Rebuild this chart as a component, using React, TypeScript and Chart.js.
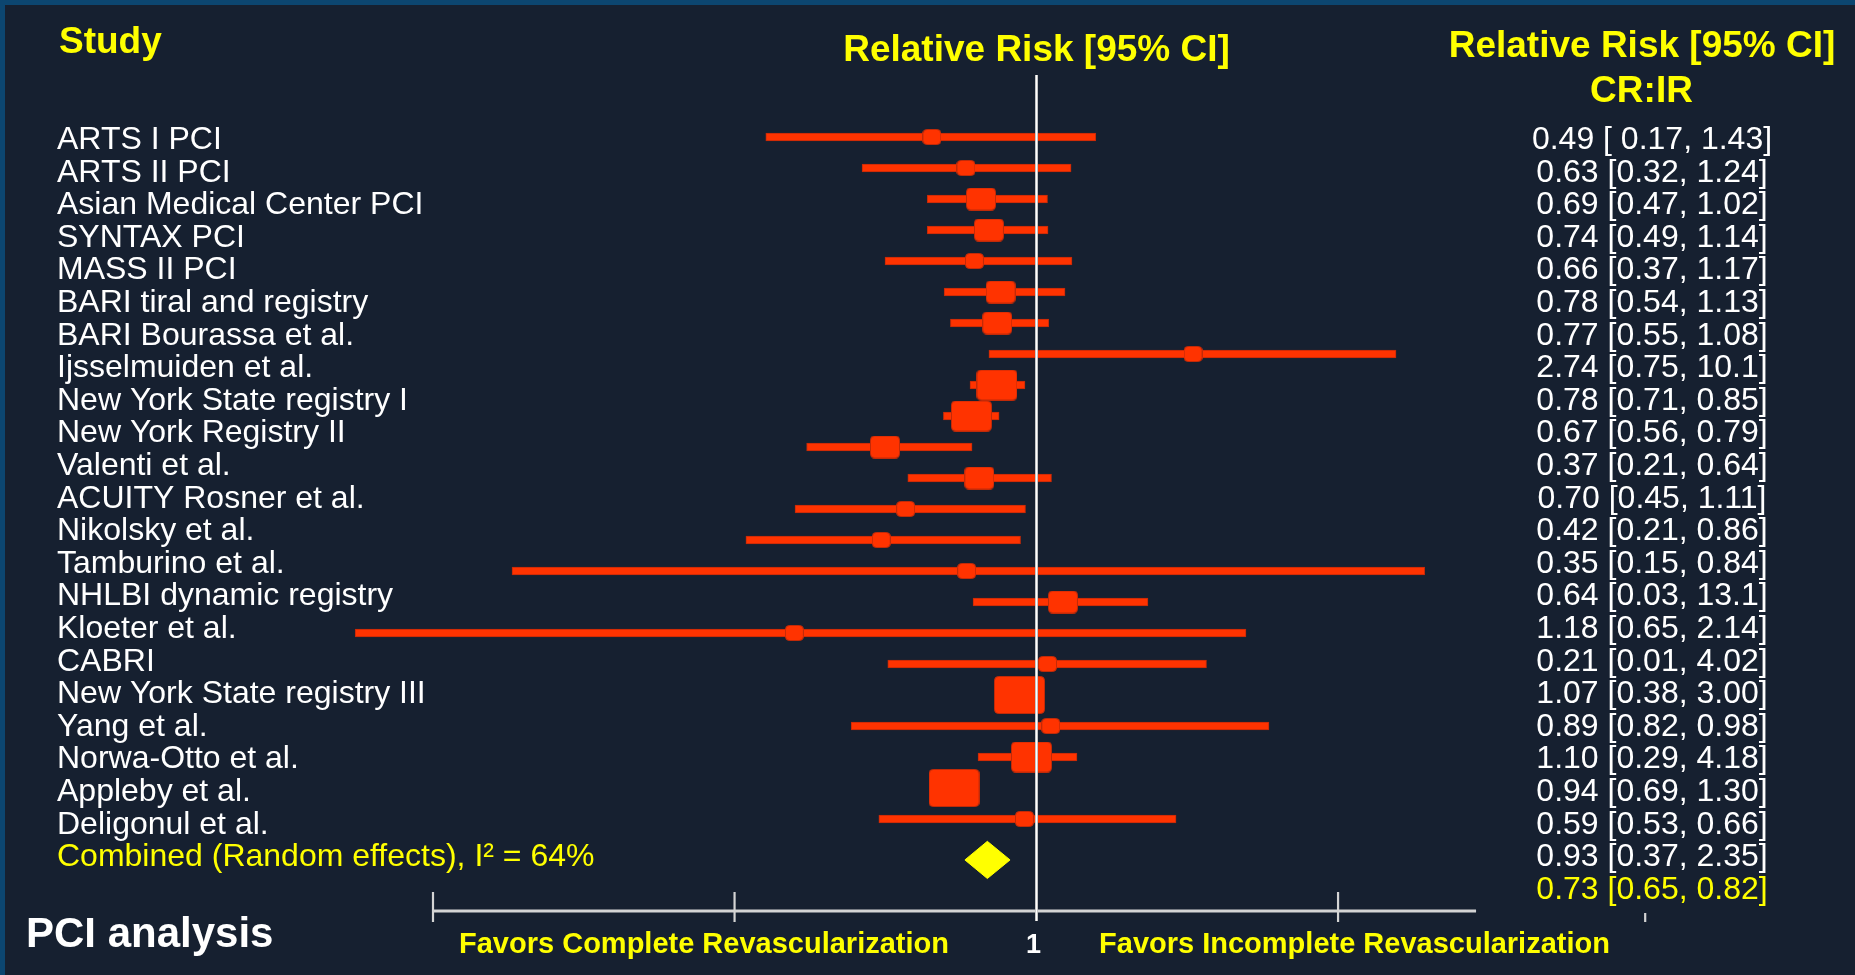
import React, { useEffect, useRef } from 'react';
import { Chart, registerables } from 'chart.js';

Chart.register(...registerables);

// ---------- data ----------
const studies = [
  'ARTS I PCI',
  'ARTS II PCI',
  'Asian Medical Center PCI',
  'SYNTAX PCI',
  'MASS II PCI',
  'BARI tiral and registry',
  'BARI Bourassa et al.',
  'Ijsselmuiden et al.',
  'New York State registry I',
  'New York Registry II',
  'Valenti et al.',
  'ACUITY Rosner et al.',
  'Nikolsky et al.',
  'Tamburino et al.',
  'NHLBI dynamic registry',
  'Kloeter et al.',
  'CABRI',
  'New York State registry III',
  'Yang et al.',
  'Norwa-Otto et al.',
  'Appleby et al.',
  'Deligonul et al.',
];
const combinedLabel = 'Combined (Random effects), I\u00B2 = 64%';

// reported relative risks (right-hand column)
const reportedRR = [0.49, 0.63, 0.69, 0.74, 0.66, 0.78, 0.77, 2.74, 0.78, 0.67, 0.37, 0.70, 0.42, 0.35, 0.64, 1.18, 0.21, 1.07, 0.89, 1.10, 0.94, 0.59, 0.93, 0.73];
const reportedLow = [0.17, 0.32, 0.47, 0.49, 0.37, 0.54, 0.55, 0.75, 0.71, 0.56, 0.21, 0.45, 0.21, 0.15, 0.03, 0.65, 0.01, 0.38, 0.82, 0.29, 0.69, 0.53, 0.37, 0.65];
const reportedHigh = [1.43, 1.24, 1.02, 1.14, 1.17, 1.13, 1.08, 10.1, 0.85, 0.79, 0.64, 1.11, 0.86, 0.84, 13.1, 2.14, 4.02, 3.00, 0.98, 4.18, 1.30, 0.66, 2.35, 0.82];

// plotted marks as drawn in the figure (rows 0..22)
const markEst = [0.671, 0.764, 0.809, 0.834, 0.789, 0.872, 0.861, 1.817, 0.860, 0.780, 0.561, 0.804, 0.607, 0.553, 0.766, 1.106, 0.397, 1.043, 0.937, 1.056, 0.981, 0.730, 0.955];
const markLow = [0.356, 0.514, 0.659, 0.659, 0.561, 0.703, 0.720, 0.834, 0.776, 0.701, 0.416, 0.612, 0.398, 0.330, 0.1352, 0.785, 0.0743, 0.567, null, 0.493, 0.800, null, 0.548];
const markHigh = [1.254, 1.141, 1.043, 1.045, 1.145, 1.115, 1.048, 3.942, 0.957, 0.867, 0.782, 1.059, 0.959, 0.941, 4.398, 1.530, 2.224, 1.913, null, 2.428, 1.167, null, 1.703];
const markWeight = [1, 1, 2, 2, 1, 2, 2, 1, 3, 3, 2, 2, 1, 1, 1, 2, 1, 1, 4, 1, 3, 4, 1];

// pooled estimate diamond [low, estimate, high] and its row
const pooled = [0.761, 0.829, 0.904];
const pooledRow = 23.32;

// axis
const axisTicks = [0.1, 0.316, 1, 3.16];
const axisEnd = 5.35;
const loneTick = 10.2;

// ---------- style ----------
const FONT = '"Liberation Sans", Arial, Helvetica, sans-serif';
const BG = '#162030';
const FRAME = '#0c4670';
const MARK = '#ff3300';
const MARK_EDGE = '#c22a08';
const YELLOW = '#ffff00';
const WHITE = '#ffffff';
const W = 1855;
const H = 975;

const fmt = (v: number) => (v >= 10 ? v.toFixed(1) : v.toFixed(2));

function makeBox(weight: number): HTMLCanvasElement {
  const w = Math.round(8.5 + 10.7 * weight);
  const h = Math.round(8.5 + 7.4 * weight);
  const c = document.createElement('canvas');
  c.width = w;
  c.height = h;
  const g = c.getContext('2d')!;
  const r = 4;
  const x0 = 0.5, y0 = 0.5, x1 = w - 0.5, y1 = h - 0.5;
  g.beginPath();
  g.moveTo(x0 + r, y0);
  g.lineTo(x1 - r, y0);
  g.quadraticCurveTo(x1, y0, x1, y0 + r);
  g.lineTo(x1, y1 - r);
  g.quadraticCurveTo(x1, y1, x1 - r, y1);
  g.lineTo(x0 + r, y1);
  g.quadraticCurveTo(x0, y1, x0, y1 - r);
  g.lineTo(x0, y0 + r);
  g.quadraticCurveTo(x0, y0, x0 + r, y0);
  g.closePath();
  g.fillStyle = MARK;
  g.fill();
  g.strokeStyle = MARK_EDGE;
  g.lineWidth = 1;
  g.stroke();
  return c;
}

const decor = {
  id: 'decor',
  beforeDraw(chart: any) {
    const { ctx, width, height } = chart;
    ctx.save();
    ctx.fillStyle = BG;
    ctx.fillRect(0, 0, width, height);
    ctx.fillStyle = FRAME;
    ctx.fillRect(0, 0, width, 5);
    ctx.fillRect(0, 0, 5, height);
    ctx.restore();
  },
  afterDatasetsDraw(chart: any) {
    const { ctx } = chart;
    const xs = chart.scales.x;
    const { top, bottom } = chart.chartArea;
    const axisY = bottom - 1;
    const seg = (a: number, b: number, c: number, d: number) => {
      ctx.beginPath();
      ctx.moveTo(a, b);
      ctx.lineTo(c, d);
      ctx.stroke();
    };
    ctx.save();
    ctx.lineCap = 'butt';
    // axis line
    ctx.strokeStyle = '#d4d4d4';
    ctx.lineWidth = 3;
    seg(xs.getPixelForValue(axisTicks[0]), axisY, xs.getPixelForValue(axisEnd), axisY);
    // ticks
    ctx.lineWidth = 2.2;
    for (const t of axisTicks) {
      if (t === 1) continue;
      const p = xs.getPixelForValue(t);
      seg(p, axisY - 19, p, axisY + 11);
    }
    const pl = xs.getPixelForValue(loneTick);
    seg(pl, axisY + 2, pl, axisY + 11);
    // reference line at 1
    const p1 = xs.getPixelForValue(1);
    ctx.strokeStyle = '#b8b8b8';
    ctx.lineWidth = 3;
    seg(p1, top, p1, axisY + 10);
    ctx.strokeStyle = WHITE;
    ctx.lineWidth = 1.4;
    seg(p1, top, p1, axisY + 10);
    ctx.restore();
  },
  afterDraw(chart: any) {
    const { ctx } = chart;
    const yt = chart.scales.yText;
    const xs = chart.scales.x;
    const p1 = xs.getPixelForValue(1);
    ctx.save();
    ctx.textBaseline = 'alphabetic';

    // headers
    ctx.font = `bold 37px ${FONT}`;
    ctx.fillStyle = YELLOW;
    ctx.textAlign = 'left';
    ctx.fillText('Study', 59, 53);
    ctx.textAlign = 'center';
    ctx.fillText('Relative Risk [95% CI]', p1, 61);
    ctx.fillText('Relative Risk [95% CI]', 1642, 57);
    ctx.fillText('CR:IR', 1641.5, 102);

    // study labels
    ctx.font = `32px ${FONT}`;
    ctx.textAlign = 'left';
    const base = (i: number) => yt.getPixelForValue(i) + 11.4;
    studies.forEach((s, i) => {
      ctx.fillStyle = WHITE;
      ctx.fillText(s, 57, base(i));
    });
    ctx.fillStyle = YELLOW;
    ctx.fillText(combinedLabel, 57, base(studies.length));

    // reported values
    ctx.textAlign = 'center';
    reportedRR.forEach((v, i) => {
      const lo = (i === 0 ? ' ' : '') + fmt(reportedLow[i]);
      const txt = `${fmt(v)} [${lo}, ${fmt(reportedHigh[i])}]`;
      ctx.fillStyle = i === reportedRR.length - 1 ? YELLOW : WHITE;
      ctx.fillText(txt, 1652, base(i));
    });

    // bottom texts
    ctx.font = `bold 42px ${FONT}`;
    ctx.fillStyle = WHITE;
    ctx.textAlign = 'left';
    ctx.fillText('PCI analysis', 26, 947);

    ctx.font = `bold 29px ${FONT}`;
    ctx.fillStyle = YELLOW;
    ctx.textAlign = 'center';
    ctx.fillText('Favors Complete Revascularization', 704, 953);
    ctx.fillText('Favors Incomplete Revascularization', 1354.5, 953);
    ctx.font = `bold 27px ${FONT}`;
    ctx.fillStyle = WHITE;
    ctx.fillText('1', p1 - 3, 953);
    ctx.restore();
  },
};

export default function App() {
  const ref = useRef<HTMLCanvasElement>(null);

  useEffect(() => {
    document.body.style.margin = '0';
    document.body.style.overflow = 'hidden';
    document.documentElement.style.overflow = 'hidden';

    const images: Record<number, HTMLCanvasElement> = {};
    [1, 2, 3, 4].forEach((w) => (images[w] = makeBox(w)));

    // layout: x=1 at 1036.5px, 603.5px per decade; rows 31px apart starting at 137px
    const xMin = 0.05;
    const xMax = 20;
    const perDecade = 603.5;
    const padLeft = 1036.5 - perDecade * Math.log10(1 / xMin);
    const padRight = W - (1036.5 + perDecade * Math.log10(xMax));
    const areaTop = 75;
    const areaBottom = 912;
    const rowPx = 31;
    const row0 = 137;
    const textRowPx = 32.6;
    const textRow0 = 137.5;

    const whiskers = markLow
      .map((lo, i) => (lo == null ? null : { y: i, x: [lo, markHigh[i] as number] }))
      .filter((d) => d !== null);

    const diamond = [
      { x: pooled[0], y: pooledRow },
      { x: pooled[1], y: pooledRow - 0.6 },
      { x: pooled[2], y: pooledRow },
      { x: pooled[1], y: pooledRow + 0.6 },
      { x: pooled[0], y: pooledRow },
    ];

    const chart = new Chart(ref.current!, {
      type: 'scatter',
      data: {
        datasets: [
          {
            type: 'scatter',
            label: 'estimate',
            data: markEst.map((x, i) => ({ x, y: i })),
            pointStyle: (c: any) => images[markWeight[c.dataIndex]] || 'rect',
            pointRadius: 6,
            backgroundColor: MARK,
            borderColor: MARK,
            clip: false,
          } as any,
          {
            type: 'line',
            label: 'pooled',
            data: diamond,
            borderColor: YELLOW,
            borderWidth: 1,
            backgroundColor: YELLOW,
            fill: 'shape',
            pointRadius: 0,
            tension: 0,
            clip: false,
          } as any,
          {
            type: 'bar',
            label: 'CI',
            indexAxis: 'y',
            data: whiskers as any,
            barThickness: 8,
            backgroundColor: MARK,
            borderColor: MARK_EDGE,
            borderWidth: 1,
            borderSkipped: false,
            clip: false,
          } as any,
        ],
      },
      options: {
        responsive: false,
        animation: false,
        events: [],
        devicePixelRatio: 1,
        layout: {
          padding: {
            left: padLeft,
            right: padRight,
            top: areaTop,
            bottom: H - areaBottom,
          },
        },
        scales: {
          x: {
            type: 'logarithmic',
            display: false,
            offset: false,
            min: xMin,
            max: xMax,
          },
          y: {
            type: 'linear',
            display: false,
            offset: false,
            grace: 0,
            reverse: true,
            min: (areaTop - row0) / rowPx,
            max: (areaBottom - row0) / rowPx,
          },
          yText: {
            type: 'linear',
            axis: 'y',
            display: false,
            offset: false,
            reverse: true,
            min: (areaTop - textRow0) / textRowPx,
            max: (areaBottom - textRow0) / textRowPx,
          },
        } as any,
        plugins: {
          legend: { display: false },
          tooltip: { enabled: false },
        },
      },
      plugins: [decor],
    });

    return () => chart.destroy();
  }, []);

  return (
    <canvas
      ref={ref}
      width={W}
      height={H}
      style={{ display: 'block', width: W, height: H }}
    />
  );
}
